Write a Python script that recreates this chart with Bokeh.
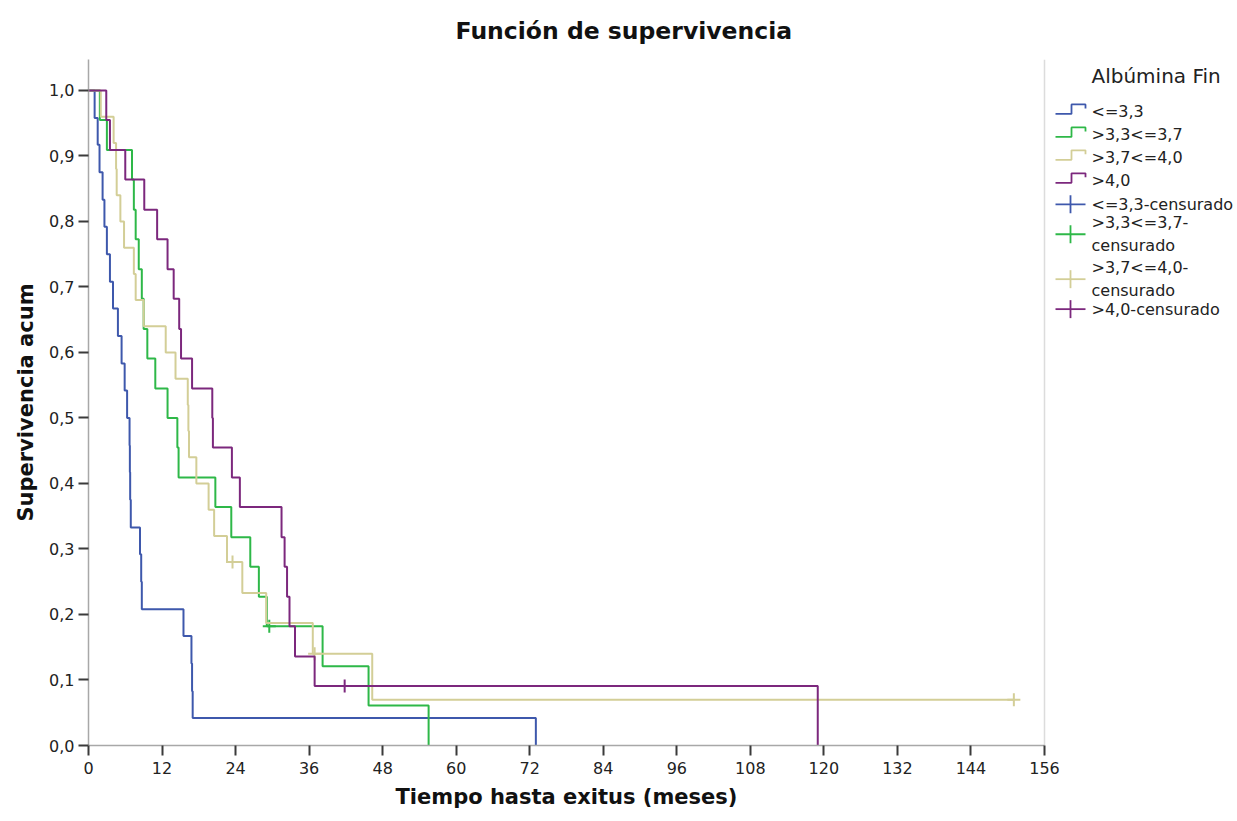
from bokeh.plotting import figure
from bokeh.models import Range1d, FixedTicker, Title
from bokeh.embed import file_html
from bokeh.resources import INLINE
from bokeh.core.properties import value

# ---------------- data ----------------
group_names = ["<=3,3", ">3,3<=3,7", ">3,7<=4,0", ">4,0"]

blue_t = [0, 1.0, 1.5, 1.8, 2.3, 2.6, 3.0, 3.5, 4.0, 4.8, 5.4, 5.9, 6.3, 6.7, 6.75,
          6.8, 6.9, 8.4, 8.6, 8.7, 15.5, 16.8, 16.9, 17.0, 73]
blue_s = [1.0, 0.958, 0.917, 0.875, 0.833, 0.792, 0.750, 0.708, 0.667, 0.625, 0.583,
          0.542, 0.500, 0.458, 0.417, 0.375, 0.333, 0.292, 0.250, 0.208, 0.167, 0.125,
          0.083, 0.042, 0.0]
blue_cens_t = []
blue_cens_s = []

green_t = [0, 1.85, 3.0, 7.1, 7.4, 7.7, 8.2, 8.7, 9.0, 9.6, 10.9, 12.9, 14.5, 14.7,
           20.7, 23.3, 26.4, 27.8, 29.1, 38.2, 45.7, 55.5]
green_s = [1.0, 0.955, 0.909, 0.864, 0.818, 0.773, 0.727, 0.682, 0.636, 0.591, 0.545,
           0.500, 0.455, 0.409, 0.364, 0.318, 0.273, 0.227, 0.182, 0.121, 0.061, 0.0]
green_cens_t = [29.5]
green_cens_s = [0.182]

khaki_t = [0, 2.0, 4.1, 4.5, 4.6, 5.2, 5.8, 7.4, 7.7, 9.0, 12.6, 14.2, 16.2, 16.3, 16.4,
           17.6, 19.6, 20.5, 22.6, 25.1, 29.0, 36.6, 46.3, 151]
khaki_s = [1.0, 0.96, 0.92, 0.88, 0.84, 0.80, 0.76, 0.72, 0.68, 0.64, 0.60, 0.56, 0.52,
           0.48, 0.44, 0.40, 0.36, 0.32, 0.28, 0.233, 0.187, 0.14, 0.07, 0.07]
khaki_cens_t = [23.5, 36.9, 151]
khaki_cens_s = [0.28, 0.14, 0.07]

purple_t = [0, 2.9, 3.5, 6.0, 9.1, 11.2, 12.9, 13.9, 14.8, 15.1, 16.9, 20.2, 20.3, 23.4,
            24.7, 31.5, 32.0, 32.4, 32.8, 33.7, 36.9, 119]
purple_s = [1.0, 0.955, 0.909, 0.864, 0.818, 0.773, 0.727, 0.682, 0.636, 0.591, 0.545,
            0.500, 0.455, 0.409, 0.364, 0.318, 0.273, 0.227, 0.182, 0.136, 0.091, 0.0]
purple_cens_t = [41.8]
purple_cens_s = [0.091]

x_ticks = [0, 12, 24, 36, 48, 60, 72, 84, 96, 108, 120, 132, 144, 156]
x_tick_labels = ["0", "12", "24", "36", "48", "60", "72", "84", "96", "108", "120",
                 "132", "144", "156"]
y_ticks = [0.0, 0.1, 0.2, 0.3, 0.4, 0.5, 0.6, 0.7, 0.8, 0.9, 1.0]
y_tick_labels = ["0,0", "0,1", "0,2", "0,3", "0,4", "0,5", "0,6", "0,7", "0,8", "0,9", "1,0"]

title_text = "Función de supervivencia"
x_label = "Tiempo hasta exitus (meses)"
y_label = "Supervivencia acum"
legend_title = "Albúmina Fin"
legend_labels = ["<=3,3", ">3,3<=3,7", ">3,7<=4,0", ">4,0",
                 "<=3,3-censurado", ">3,3<=3,7-\ncensurado", ">3,7<=4,0-\ncensurado",
                 ">4,0-censurado"]

# ---------------- layout geometry (page pixels) ----------------
FONT = "DejaVu Sans"
colors = ["#3E58AC", "#2EB848", "#D3CE97", "#7C287D"]
series = [
    (blue_t, blue_s, blue_cens_t, blue_cens_s),
    (green_t, green_s, green_cens_t, green_cens_s),
    (khaki_t, khaki_s, khaki_cens_t, khaki_cens_s),
    (purple_t, purple_s, purple_cens_t, purple_cens_s),
]

W, H = 1235, 820
X_MAX, Y_MAX = 156, 1.0473
fr_left, fr_right, fr_top, fr_bottom = 88, W, 58, 745
px_per_x = (1044 - fr_left) / X_MAX
x_end = (fr_right - fr_left) / px_per_x

p = figure(width=W, height=H, x_range=Range1d(0, x_end), y_range=Range1d(0, Y_MAX),
           output_backend="svg", toolbar_location=None, title=None,
           min_border_left=fr_left, min_border_right=0, min_border_top=fr_top,
           min_border_bottom=H - fr_bottom)
p.extra_x_ranges = {"px": Range1d(fr_left, fr_right)}
p.extra_y_ranges = {"py": Range1d(fr_bottom, fr_top)}

for (t, s, ct, cs), c in zip(series, colors):
    p.step(t, s, mode="after", line_color=c, line_width=2)
    if ct:
        p.scatter(ct, cs, marker="cross", size=13, line_color=c, line_width=2)

p.xaxis.bounds = (0, X_MAX)
p.yaxis.bounds = (0, Y_MAX)
p.xaxis.ticker = FixedTicker(ticks=x_ticks)
p.xaxis.major_label_overrides = dict(zip(x_ticks, x_tick_labels))
p.yaxis.ticker = FixedTicker(ticks=y_ticks)
p.yaxis.major_label_overrides = dict(zip(y_ticks, y_tick_labels))

p.axis.axis_line_color = "#a8a8a8"
p.axis.axis_line_width = 1.5
p.axis.major_tick_line_color = "#3a3a3a"
p.axis.major_tick_line_width = 2
p.axis.major_tick_out = 10
p.axis.major_tick_in = 0
p.axis.minor_tick_line_color = None
p.axis.major_label_text_font = FONT
p.axis.major_label_text_font_size = "16px"
p.axis.major_label_text_color = "#222222"
p.xaxis.major_label_standoff = 6
p.yaxis.major_label_standoff = 4

p.yaxis.axis_label = y_label
p.yaxis.axis_label_text_font = FONT
p.yaxis.axis_label_text_font_style = "bold"
p.yaxis.axis_label_text_font_size = "21px"
p.yaxis.axis_label_text_color = "#111111"
p.yaxis.axis_label_standoff = 8

# x-axis title, centred under the plotting box (not under the legend area)
p.add_layout(Title(text=x_label, align="left", offset=307, vertical_align="top",
                   standoff=16, text_font=FONT, text_font_style="bold",
                   text_font_size="21px", text_color="#111111"), "below")

# chart title
p.add_layout(Title(text=title_text, align="left", offset=367, vertical_align="bottom",
                   standoff=29, text_font=FONT, text_font_style="bold",
                   text_font_size="23.5px", text_color="#111111"), "above")

p.grid.visible = False
p.outline_line_color = None

# right border of the plotting box
p.segment(x0=[X_MAX], y0=[0], x1=[X_MAX], y1=[Y_MAX], line_color="#dcdcdc", line_width=1.5)

# ---------------- legend ----------------
p.text(x=[1091], y=[75], text=[legend_title], x_range_name="px", y_range_name="py",
       text_font=value(FONT), text_font_size="20px", text_baseline="middle",
       text_align="left", text_color="#222222")

row_y = [110, 133, 156, 179, 203, 233, 278, 308]
leg_colors = colors + colors
for i, (lab, c) in enumerate(zip(legend_labels, leg_colors)):
    yc = row_y[i]
    if i < 4:
        p.line([1055, 1071, 1071, 1085, 1085], [yc + 2.5, yc + 2.5, yc - 7, yc - 7, yc - 3],
               x_range_name="px", y_range_name="py", line_color=c, line_width=1.8)
    else:
        p.line([1055, 1085], [yc, yc], x_range_name="px", y_range_name="py",
               line_color=c, line_width=1.8)
        p.line([1070, 1070], [yc - 9, yc + 9], x_range_name="px", y_range_name="py",
               line_color=c, line_width=1.8)
    p.text(x=[1091], y=[yc], text=[lab], x_range_name="px", y_range_name="py",
           text_font=value(FONT), text_font_size="16px", text_baseline="middle",
           text_align="left", text_color="#222222", text_line_height=1.2)

open("out.html", "w").write(file_html(p, INLINE))
